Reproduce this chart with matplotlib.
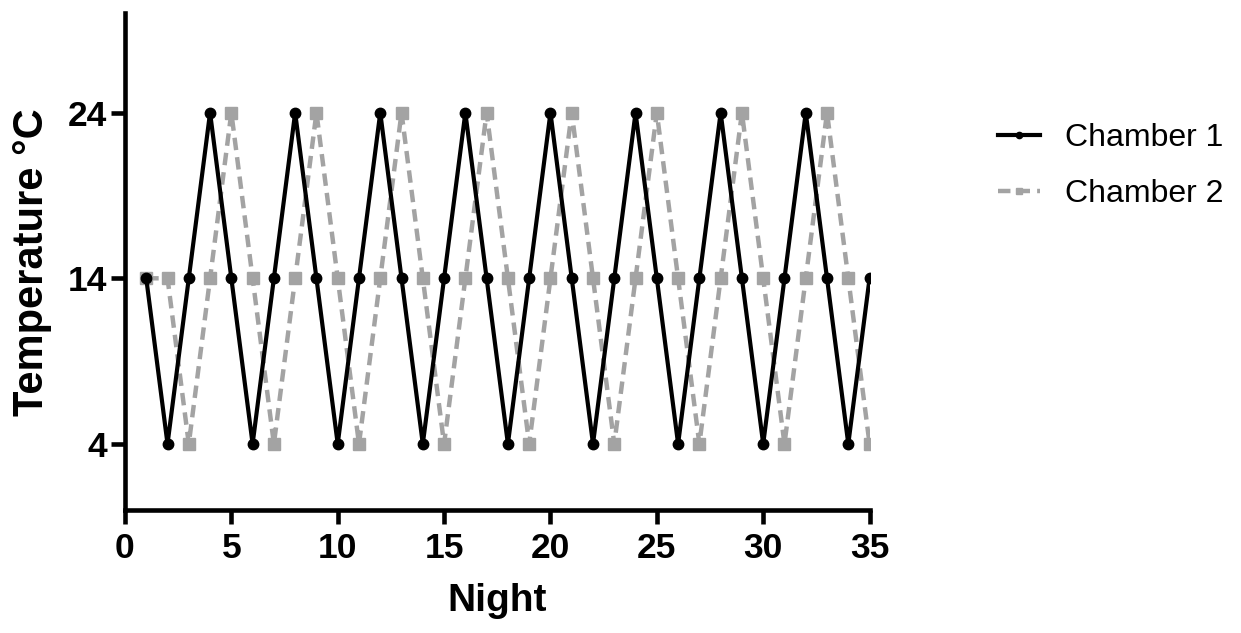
import matplotlib
matplotlib.use("Agg")
import matplotlib.pyplot as plt

plt.rcParams['font.family'] = ['Liberation Sans', 'DejaVu Sans']

nights = list(range(1, 36))
# Chamber 1: 14 -> 4 -> 14 -> 24 cycle
chamber1 = [14, 4, 14, 24] * 8 + [14, 4, 14]
# Chamber 2 lags one night behind
chamber2 = [14, 14, 4, 14, 24] + [14, 4, 14, 24] * 7 + [14, 4]
chamber2 = chamber2[:35]

fig = plt.figure(figsize=(12.41, 6.33), dpi=100)
ax = fig.add_axes([0.1007, 0.194, 0.6, 0.785])

ax.plot(nights, chamber2, color='#a3a3a3', linestyle=(0, (2.8, 1.6)), linewidth=3.2,
        marker='s', markersize=8, label='Chamber 2')
ax.plot(nights, chamber1, color='black', linewidth=3,
        marker='o', markersize=7.5, label='Chamber 1')

ax.set_xlim(0, 35)
ax.set_ylim(0, 30)
ax.set_xticks([0, 5, 10, 15, 20, 25, 30, 35])
ax.set_yticks([4, 14, 24])

for s in ['top', 'right']:
    ax.spines[s].set_visible(False)
for s in ['left', 'bottom']:
    ax.spines[s].set_linewidth(3.3)

ax.tick_params(width=3.3, length=10, labelsize=25.5)
ax.tick_params(axis='x', pad=6)
ax.tick_params(axis='y', pad=3)
for lbl in ax.get_xticklabels() + ax.get_yticklabels():
    lbl.set_fontweight('bold')

ax.set_xlabel('Night', fontsize=28, fontweight='bold', labelpad=13)
ax.set_ylabel('Temperature °C', fontsize=30, fontweight='bold', labelpad=11)

handles, labels = ax.get_legend_handles_labels()
fig.legend(handles[::-1], labels[::-1], loc='upper left', bbox_to_anchor=(0.804, 0.805),
           frameon=False, fontsize=23, handlelength=1.32, handletextpad=0.8,
           labelspacing=0.8, borderpad=0, borderaxespad=0, markerscale=0.6)

fig.savefig('out.png', dpi=100)
